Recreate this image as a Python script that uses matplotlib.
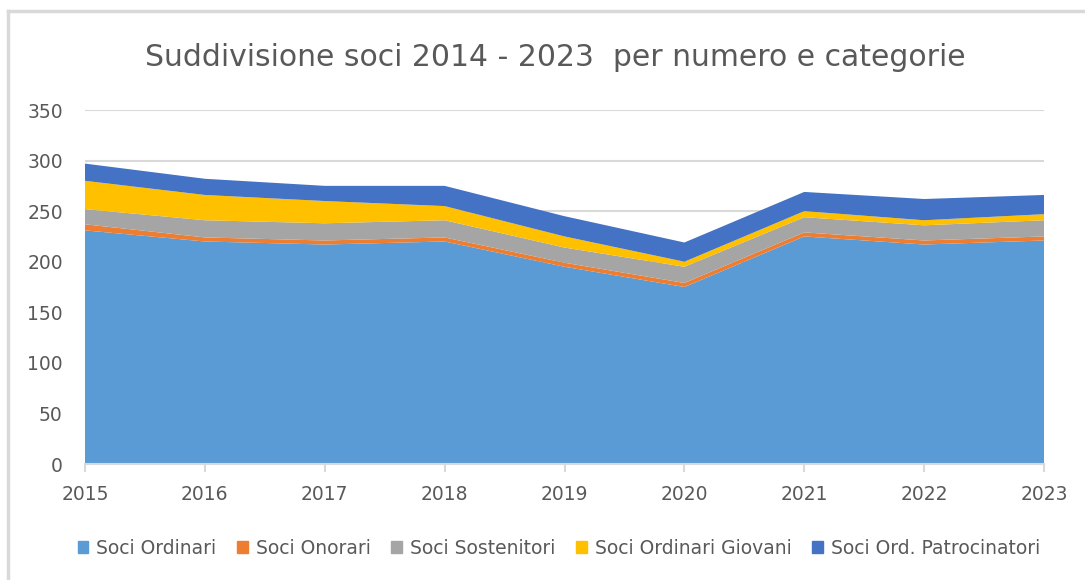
import matplotlib.pyplot as plt
from matplotlib.lines import Line2D
from matplotlib.patches import Rectangle

years = [2015, 2016, 2017, 2018, 2019, 2020, 2021, 2022, 2023]
ordinari = [231, 220, 217, 220, 195, 175, 225, 217, 221]
onorari = [6, 4, 4, 4, 4, 4, 4, 4, 4]
sostenitori = [15, 17, 17, 17, 15, 16, 15, 15, 16]
giovani = [28, 25, 22, 14, 11, 5, 6, 5, 6]
patrocinatori = [17, 16, 15, 20, 20, 19, 19, 21, 19]

labels = ['Soci Ordinari', 'Soci Onorari', 'Soci Sostenitori',
          'Soci Ordinari Giovani', 'Soci Ord. Patrocinatori']
colors = ['#5B9BD5', '#ED7D31', '#A5A5A5', '#FFC000', '#4472C4']

plt.rcParams['font.family'] = ['DejaVu Sans']

fig = plt.figure(figsize=(10.85, 5.8), dpi=100)
ax = fig.add_axes([85 / 1085, 1 - 464 / 580, (1044 - 85) / 1085, (464 - 110) / 580])

ax.stackplot(years, ordinari, onorari, sostenitori, giovani, patrocinatori,
             colors=colors, labels=labels, linewidth=0, zorder=2)

ax.set_xlim(2015, 2023)
ax.set_ylim(0, 350)
ax.set_yticks(range(0, 351, 50))
ax.set_xticks(years)
ax.grid(axis='y', color='#d9d9d9', linewidth=1.5, zorder=0)
ax.set_axisbelow(True)
for s in ['top', 'right', 'left']:
    ax.spines[s].set_visible(False)
ax.spines['bottom'].set_color('#d9d9d9')
ax.spines['bottom'].set_linewidth(1.5)
ax.spines['bottom'].set_zorder(3)
ax.tick_params(axis='y', length=0, pad=16, labelsize=13.5, labelcolor='#595959')
ax.tick_params(axis='x', length=6, width=1.5, color='#d9d9d9', pad=9,
               labelsize=13.5, labelcolor='#595959')

fig.text(555 / 1085, 1 - 58 / 580, 'Suddivisione soci 2014 - 2023  per numero e categorie',
         ha='center', va='center', fontsize=21.5, color='#595959')

handles = [Rectangle((0, 0), 1, 1, color=c) for c in colors]
fig.legend(handles, labels, loc='center', bbox_to_anchor=(559 / 1085, 1 - 548 / 580),
           ncol=5, frameon=False, fontsize=13.5, labelcolor='#595959',
           handlelength=0.55, handleheight=0.55, handletextpad=0.45, columnspacing=1.1)

# chart frame (only top and left edges visible)
fig.add_artist(Line2D([8 / 1085, 8 / 1085], [0, 1 - 11 / 580], color='#d9d9d9', linewidth=2.5))
fig.add_artist(Line2D([8 / 1085, 1], [1 - 11 / 580, 1 - 11 / 580], color='#d9d9d9', linewidth=2.5))

fig.savefig('out.png', dpi=100)
